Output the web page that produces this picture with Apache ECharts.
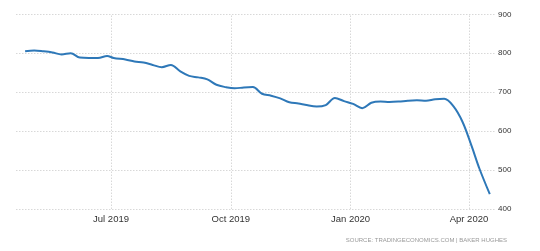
<!DOCTYPE html>
<html>
<head>
<meta charset="utf-8">
<script src="https://cdn.jsdelivr.net/npm/echarts@6/dist/echarts.min.js"></script>
<style>
html,body{margin:0;padding:0;background:#fff;}
#chart{width:540px;height:251px;}
</style>
</head>
<body>
<div id="chart"></div>
<script>
// Weekly US oil rig count (Baker Hughes)
var dates = [
  '2019-04-26','2019-05-03','2019-05-10','2019-05-17','2019-05-24','2019-05-31',
  '2019-06-07','2019-06-14','2019-06-21','2019-06-28','2019-07-03','2019-07-12',
  '2019-07-19','2019-07-26','2019-08-02','2019-08-09','2019-08-16','2019-08-23',
  '2019-08-30','2019-09-06','2019-09-13','2019-09-20','2019-09-27','2019-10-04',
  '2019-10-11','2019-10-18','2019-10-25','2019-11-01','2019-11-08','2019-11-15',
  '2019-11-22','2019-11-27','2019-12-06','2019-12-13','2019-12-20','2019-12-27',
  '2020-01-03','2020-01-10','2020-01-17','2020-01-24','2020-01-31','2020-02-07',
  '2020-02-14','2020-02-21','2020-02-28','2020-03-06','2020-03-13','2020-03-20',
  '2020-03-27','2020-04-03','2020-04-09','2020-04-17'
];
var rigs = [
  805,807,805,802,797,800,
  789,788,788,793,788,784,
  779,776,770,764,770,754,
  742,738,733,719,713,710,
  712,713,696,691,684,674,
  671,668,663,667,685,677,
  670,659,673,676,675,676,
  678,679,678,682,683,664,
  624,562,504,438
];
var tickDates = ['2019-07-01','2019-10-01','2020-01-01','2020-04-01'];
var yTicks = [400,500,600,700,800,900];
var axisRange = ['2019-04-19','2020-04-21'];
var sourceText = 'SOURCE: TRADINGECONOMICS.COM | BAKER HUGHES';

var months = ['Jan','Feb','Mar','Apr','May','Jun','Jul','Aug','Sep','Oct','Nov','Dec'];
function ts(s){ var p = s.split('-'); return Date.UTC(+p[0], +p[1]-1, +p[2]); }

var seriesData = dates.map(function(d,i){ return [ts(d), rigs[i]]; });
var tickVals = tickDates.map(ts);

var chart = echarts.init(document.getElementById('chart'), null, {renderer:'canvas'});
chart.setOption({
  animation: false,
  grid: {left: 16, right: 45, top: 14.3, bottom: 42, containLabel: false},
  xAxis: {
    type: 'value',
    min: ts(axisRange[0]),
    max: ts(axisRange[1]),
    axisLine: {show: false},
    axisTick: {show: false, customValues: tickVals},
    axisLabel: {
      customValues: tickVals,
      margin: 5,
      color: '#333',
      fontFamily: 'Liberation Sans, Arial, sans-serif',
      fontSize: 9.5,
      formatter: function(v){ var d = new Date(v); return months[d.getUTCMonth()] + ' ' + d.getUTCFullYear(); }
    },
    splitLine: {show: false}
  },
  yAxis: {
    type: 'value',
    position: 'right',
    min: yTicks[0],
    max: yTicks[yTicks.length-1],
    interval: 100,
    axisLine: {show: false},
    axisTick: {show: false},
    axisLabel: {
      margin: 3,
      color: '#333',
      fontFamily: 'Liberation Sans, Arial, sans-serif',
      fontSize: 8
    },
    splitLine: {show: true, lineStyle: {color: '#d8d8d8', type: [1.5, 1.5], width: 1}}
  },
  series: [{
    type: 'line',
    data: seriesData,
    smooth: 0.35,
    showSymbol: false,
    symbol: 'none',
    lineStyle: {color: '#2e78b8', width: 2},
    markLine: {
      silent: true,
      symbol: 'none',
      label: {show: false},
      lineStyle: {color: '#d8d8d8', type: [1.5, 1.5], width: 1},
      data: tickVals.map(function(v){ return {xAxis: v}; }),
      z: 1
    },
    z: 3
  }],
  graphic: [{
    type: 'text',
    right: 33,
    top: 237,
    style: {
      text: sourceText,
      fill: '#999',
      font: '6px "Liberation Sans", Arial, sans-serif'
    }
  }]
});
</script>
</body>
</html>
